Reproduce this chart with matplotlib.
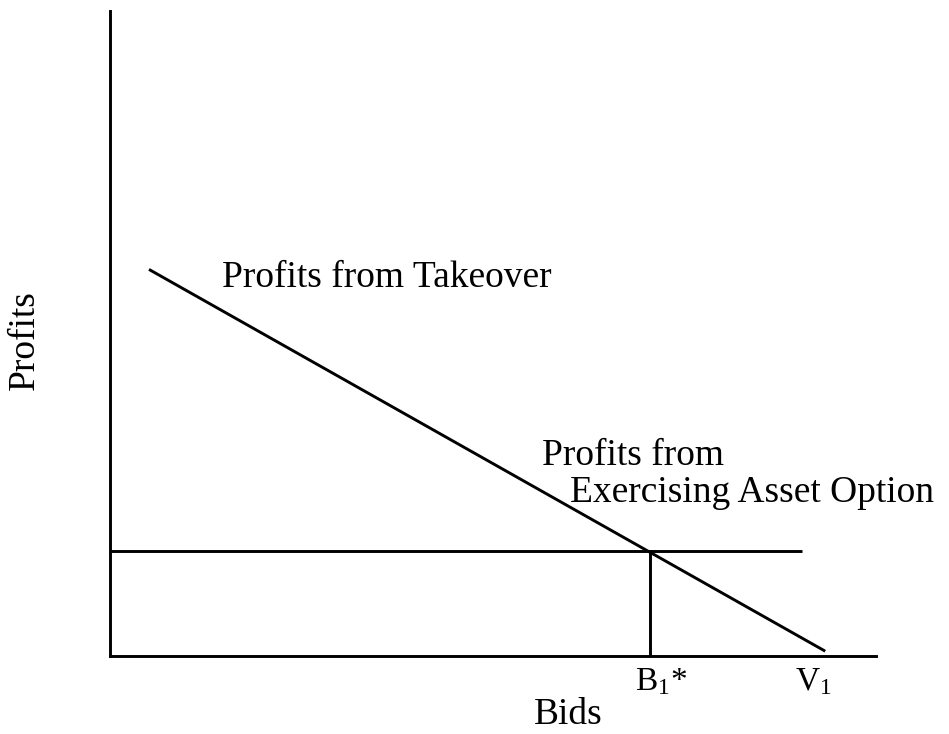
import matplotlib.pyplot as plt

plt.rcParams["font.family"] = ["Liberation Serif", "DejaVu Serif"]
plt.rcParams["mathtext.fontset"] = "custom"
plt.rcParams["mathtext.rm"] = "Liberation Serif"

# Bid levels (arbitrary units, V1 = 10)
v1 = 10.0
b1_star = 7.55

# Profits from takeover: falls as the bid rises
takeover_bids = [0.545, 10.0]
takeover_profits = [9.65, 0.12]

# Profits from exercising the asset option: flat
option_bids = [0.0, 9.68]
option_profits = [2.62, 2.62]

fig = plt.figure(figsize=(9.49, 7.34), dpi=100)
ax = fig.add_axes([110 / 949, 78 / 734, 766 / 949, 645 / 734])

ax.plot(takeover_bids, takeover_profits, color="black", lw=2.1, solid_capstyle="butt")
ax.plot(option_bids, option_profits, color="black", lw=2.1, solid_capstyle="butt")
ax.plot([b1_star, b1_star], [0, option_profits[0]], color="black", lw=2.1)

ax.set_xlim(0, 10.71)
ax.set_ylim(0, 16.1)
for side in ["top", "right"]:
    ax.spines[side].set_visible(False)
for side in ["left", "bottom"]:
    ax.spines[side].set_linewidth(2.1)
ax.set_xticks([])
ax.set_yticks([])

fs = 27
ax.text(1.566, 9.2, "Profits from Takeover", fontsize=fs, ha="left", va="baseline")
ax.text(6.04, 4.775, "Profits from", fontsize=fs, ha="left", va="baseline")
ax.text(6.43, 3.85, "Exercising Asset Option", fontsize=fs, ha="left",
        va="baseline", clip_on=False)

ax.text(b1_star + 0.15, -0.85, r"$\mathrm{B_1}$*", fontsize=24, ha="center",
        va="baseline", clip_on=False)
ax.text(v1 - 0.17, -0.85, r"$\mathrm{V_1}$", fontsize=24, ha="center",
        va="baseline", clip_on=False)
ax.text(6.41, -1.7, "Bids", fontsize=fs, ha="center", va="baseline", clip_on=False)
ax.text(-1.19, 7.875, "Profits", fontsize=fs, ha="center", va="center",
        rotation=90, clip_on=False)

fig.savefig("out.png", dpi=100)
